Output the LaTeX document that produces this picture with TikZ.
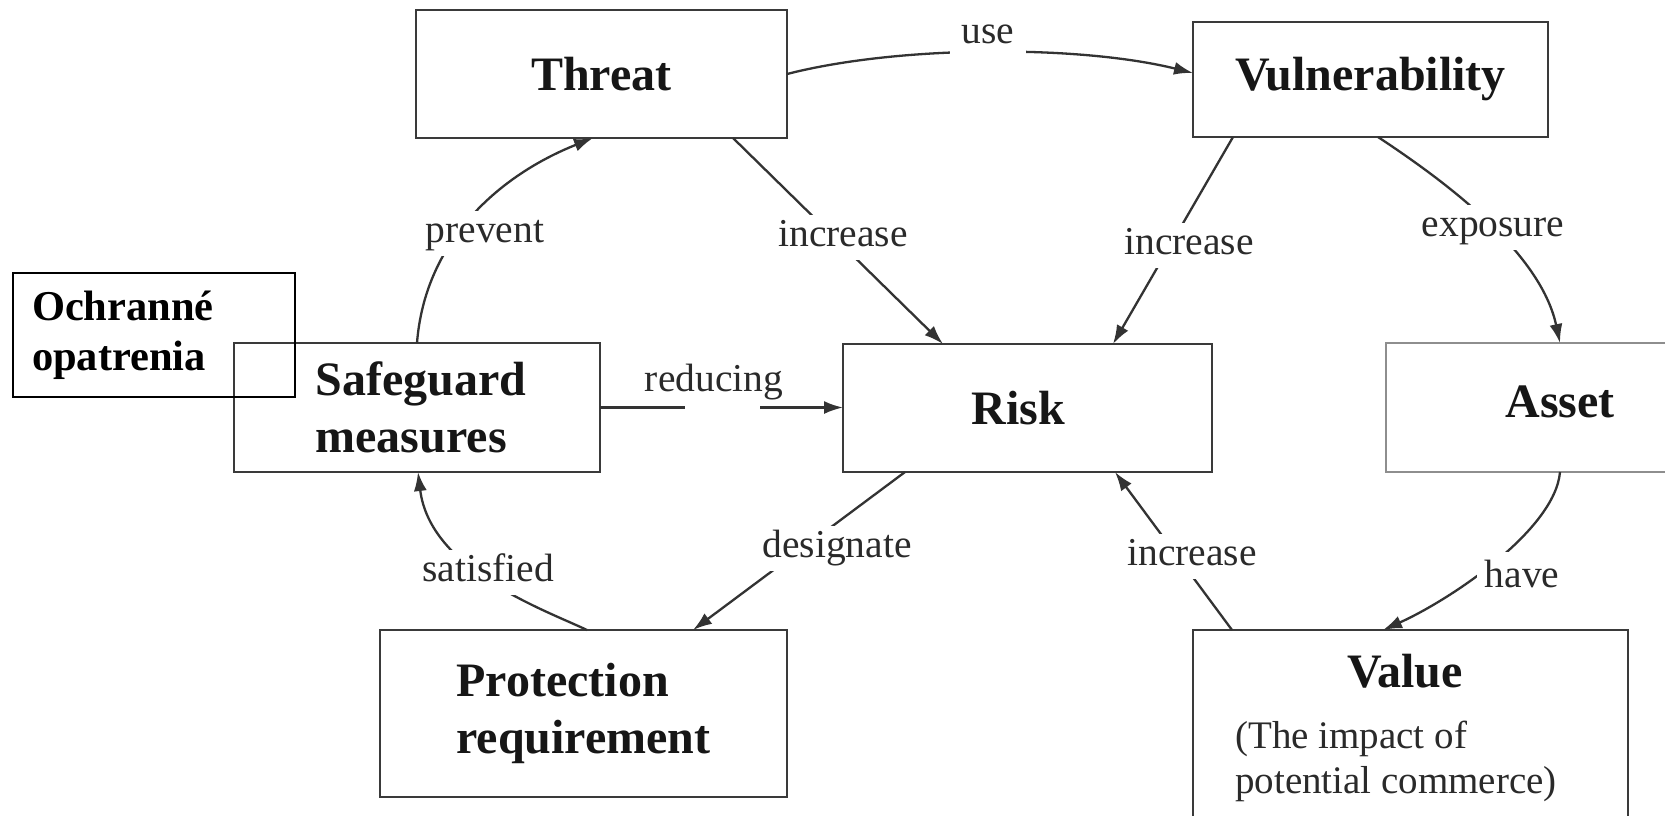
\documentclass[tikz,border=0pt]{standalone}
\usepackage{fontspec}
\setmainfont{Liberation Serif}
\usetikzlibrary{arrows.meta}

\definecolor{boxline}{HTML}{3A3A3A}
\definecolor{faintline}{HTML}{8E8E8E}
\definecolor{linkline}{HTML}{333333}
\definecolor{labeltext}{HTML}{2A2A2A}
\definecolor{titletext}{HTML}{161616}

\begin{document}
\begin{tikzpicture}[x=1pt, y=-1pt,
  box/.style={draw=boxline, line width=2.6pt, inner sep=0pt, outer sep=0pt,
    text=titletext, font=\fontsize{48}{56.5}\selectfont\bfseries},
  tagbox/.style={draw=black, line width=2.6pt, outer sep=0pt, text=black,
    font=\fontsize{42.5}{50}\selectfont\bfseries},
  link/.style={draw=linkline, line width=2.3pt, -{Latex[length=19pt,width=13pt]}},
  lbl/.style={fill=white, inner sep=4pt, text=labeltext,
    font=\fontsize{39.5}{45}\selectfont, text height=27.6pt, text depth=8.7pt},
  note/.style={text=labeltext, font=\fontsize{39}{45}\selectfont, inner sep=0pt}
]
% page area
\fill[white] (0,0) rectangle (1665,815);
\path[use as bounding box] (0,0) rectangle (1665,815);
\clip (0,0) rectangle (1665,815);

% boxes
\node[box, minimum width=371pt, minimum height=128pt] (threat) at (601.5,74) {Threat};
\node[box, minimum width=355pt, minimum height=115pt] (vuln) at (1370.5,79.5) {Vulnerability};
\node[box, minimum width=366pt, minimum height=129pt, align=left] (safeguard) at (417,407.5) {\kern8pt Safeguard\\\kern8pt measures};
\node[box, minimum width=369pt, minimum height=128pt] (risk) at (1027.5,408) {\kern-18pt Risk};
\node[box, draw=faintline, line width=2pt, minimum width=348pt, minimum height=129pt, text depth=11pt] (asset) at (1560,407.5) {Asset};
\node[box, minimum width=407pt, minimum height=167pt, align=left] (protection) at (583.5,713.5) {Protection\\requirement};
\node[box, minimum width=435pt, minimum height=240pt, anchor=north] (value) at (1410.5,630) {};
\node[text=titletext, font=\fontsize{48}{56.5}\selectfont\bfseries, inner sep=0pt, anchor=base] (valuetitle) at (1405,687) {Value};
\node[note, align=left, anchor=north west] (valuenote) at (1235,721) {(The impact of\\potential commerce)};

% connectors
\draw[link] (threat.east) .. controls (900,45) and (1080,45) .. ([yshift=6.5pt]vuln.west);
\draw[link] ([xshift=131.5pt]threat.south) -- ([xshift=-84.5pt]risk.north);
\draw[link] ([xshift=-137.5pt]vuln.south) -- ([xshift=85.5pt]risk.north);
\draw[link] ([xshift=7.5pt]vuln.south) .. controls (1440,178) and (1540,250) .. (asset.north);
\draw[link] (asset.south) .. controls (1555,530) and (1450,600) .. ([xshift=-27.5pt]value.north);
\draw[link] ([xshift=-178.5pt]value.north) -- ([xshift=87.5pt]risk.south);
\draw[link] ([xshift=-122.5pt]risk.south) -- ([xshift=109.5pt]protection.north);
\draw[link] ([xshift=3.5pt]protection.north) .. controls (545,610) and (430,570) .. ([xshift=1pt]safeguard.south);
\draw[link] (safeguard.north) .. controls (425,240) and (500,175) .. ([xshift=-8.5pt]threat.south);
\draw[link, dash pattern=on 85pt off 75pt on 400pt] (safeguard.east) -- (safeguard.east -| risk.west);

% connector labels
\node[lbl, inner xsep=12pt] (lbluse) at (988,34.5) {use};
\node[lbl] (lblinca) at (843,237.5) {increase};
\node[lbl] (lblprevent) at (485,233.5) {prevent};
\node[lbl] (lblincb) at (1189,245.5) {increase};
\node[lbl] (lblexposure) at (1493,227.5) {exposure};
\node[lbl, fill=none] (lblreducing) at (714,382.5) {reducing};
\node[lbl] (lblsatisfied) at (488,572.5) {satisfied};
\node[lbl] (lbldesignate) at (837,548.5) {designate};
\node[lbl] (lblincc) at (1192,556.5) {increase};
\node[lbl, inner sep=8pt] (lblhave) at (1522,578.5) {have};

% annotation box laid over the safeguard box
\node[tagbox, minimum height=124pt, text width=244pt, inner xsep=19pt, inner ysep=0pt, align=left, anchor=north west] (tag) at (13,273) {Ochranné\\opatrenia};
\end{tikzpicture}
\end{document}
